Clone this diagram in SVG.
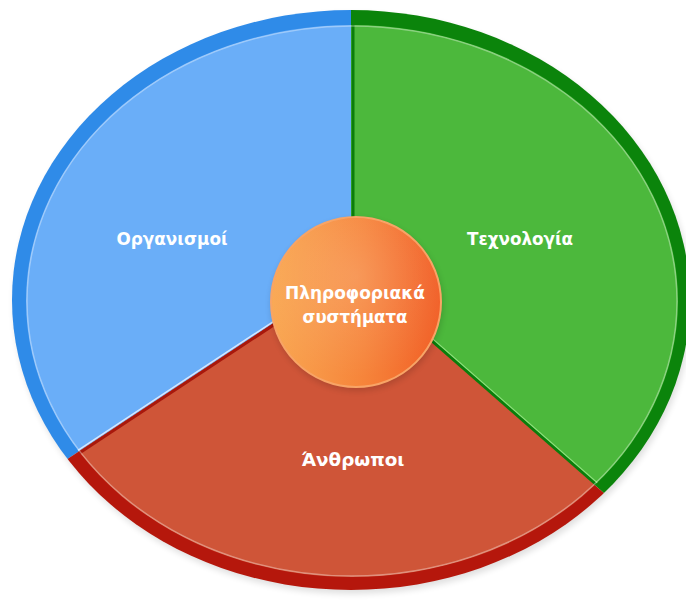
<svg xmlns="http://www.w3.org/2000/svg" width="686" height="602" viewBox="0 0 686 602">
<defs>
<clipPath id="outerClip"><ellipse cx="351" cy="300" rx="339" ry="290"/></clipPath>
<clipPath id="innerClip"><ellipse cx="352" cy="301" rx="326" ry="276"/></clipPath>
<linearGradient id="orange" x1="0" y1="0" x2="1" y2="0">
<stop offset="0" stop-color="#f9a853"/>
<stop offset="0.55" stop-color="#f6843a"/>
<stop offset="1" stop-color="#f15f27"/>
</linearGradient>
<radialGradient id="gloss" cx="0.5" cy="0.35" r="0.6">
<stop offset="0" stop-color="#ffffff" stop-opacity="0.15"/>
<stop offset="1" stop-color="#ffffff" stop-opacity="0"/>
</radialGradient>
<filter id="soft" x="-10%" y="-10%" width="120%" height="120%"><feGaussianBlur stdDeviation="3"/></filter>
</defs>
<style>
.lbl{font-family:"DejaVu Sans","Liberation Sans",sans-serif;font-weight:bold;fill:#ffffff;text-anchor:middle;font-size:18px}
.ctr{font-size:17px}
.div-dark-g{stroke:#0b7d0b;stroke-width:3;fill:none}
.div-dark-r{stroke:#a8180c;stroke-width:3;fill:none}
</style>
<rect width="686" height="602" fill="#ffffff"/>
<ellipse cx="353" cy="304" rx="339" ry="290" fill="#000000" opacity="0.12" filter="url(#soft)"/>

<g id="sector-organismoi">
<polygon points="351,272 351,-200 -700,-200 -468,812" fill="#2f8be8" clip-path="url(#outerClip)"/>
<polygon points="351,272 351,-200 -700,-200 -468,812" fill="#6aaef8" clip-path="url(#innerClip)"/>
<text class="lbl" x="172" y="245" textLength="111" lengthAdjust="spacingAndGlyphs">Οργανισμοί</text>
</g>

<g id="sector-technologia">
<polygon points="351,272 351,-200 1300,-200 1113,938" fill="#0b840b" clip-path="url(#outerClip)"/>
<polygon points="351,272 351,-200 1300,-200 1113,938" fill="#4cb83c" clip-path="url(#innerClip)"/>
<text class="lbl" x="520" y="245" textLength="106" lengthAdjust="spacingAndGlyphs">Τεχνολογία</text>
</g>

<g id="sector-anthropoi">
<polygon points="351,272 -468,812 1113,938" fill="#b5170c" clip-path="url(#outerClip)"/>
<polygon points="351,272 -468,812 1113,938" fill="#cf5538" clip-path="url(#innerClip)"/>
<text class="lbl" x="353" y="466" textLength="103" lengthAdjust="spacingAndGlyphs">Άνθρωποι</text>
</g>

<g id="connectors" clip-path="url(#innerClip)">
<line x1="353" y1="0" x2="353" y2="272" class="div-dark-g" stroke-width="4"/>
<line x1="350.2" y1="270.8" x2="-467" y2="810" stroke="#d6e8ff" stroke-width="1.5"/>
<line x1="351.8" y1="273.3" x2="-466" y2="813" class="div-dark-r"/>
<line x1="352" y1="270.9" x2="1114" y2="937" class="div-dark-g"/>
<line x1="353.3" y1="269.4" x2="1115" y2="935.5" stroke="#8ee07c" stroke-width="1.2"/>
<ellipse cx="352" cy="301" rx="325" ry="275" fill="none" stroke="#ffffff" stroke-opacity="0.35" stroke-width="1.5"/>
</g>

<g id="center">
<circle cx="357" cy="305" r="86" fill="#000000" opacity="0.15" filter="url(#soft)"/>
<circle cx="356" cy="302" r="85" fill="url(#orange)" stroke="#f8a466" stroke-width="2"/>
<circle cx="356" cy="302" r="84" fill="url(#gloss)"/>
<text class="lbl ctr" x="355" y="299" textLength="140" lengthAdjust="spacingAndGlyphs">Πληροφοριακά</text>
<text class="lbl ctr" x="355" y="323" textLength="105" lengthAdjust="spacingAndGlyphs">συστήματα</text>
</g>
</svg>
